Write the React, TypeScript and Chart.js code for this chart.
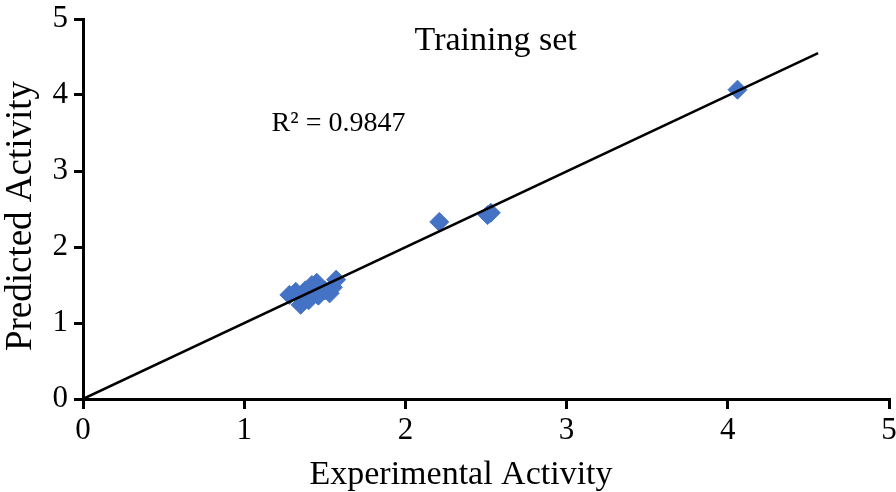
import React, { useEffect, useRef } from "react";
import { Chart, registerables } from "chart.js";

Chart.register(...registerables);

const expX: number[] = [1.28, 1.32, 1.35, 1.38, 1.40, 1.42, 1.45, 1.46, 1.50, 1.53, 1.55, 1.57, 2.21, 2.51, 2.53, 4.06];
const predY: number[] = [1.37, 1.41, 1.24, 1.43, 1.30, 1.50, 1.53, 1.36, 1.43, 1.39, 1.47, 1.57, 2.33, 2.42, 2.45, 4.07];
const trendX: number[] = [0, 4.56];
const trendY: number[] = [0, 4.55];
const tickValues: number[] = [0, 1, 2, 3, 4, 5];

const chartTitle = "Training set";
const r2Label = "R² = 0.9847";
const xTitle = "Experimental Activity";
const yTitle = "Predicted Activity";

const FONT = "'Liberation Serif', 'Times New Roman', serif";

const textPlugin = {
  id: "textPlugin",
  afterDraw(chart: any) {
    const ctx = chart.ctx;
    const xs = chart.scales.x;
    const ys = chart.scales.y;
    ctx.save();
    ctx.fillStyle = "#000";
    ctx.textBaseline = "alphabetic";
    ctx.font = `34px ${FONT}`;
    ctx.textAlign = "center";
    ctx.fillText(chartTitle, xs.getPixelForValue(2.56), ys.getPixelForValue(4.59));
    ctx.font = `28px ${FONT}`;
    ctx.textAlign = "left";
    ctx.fillText(r2Label, xs.getPixelForValue(1.17), ys.getPixelForValue(3.53));
    ctx.font = `34px ${FONT}`;
    ctx.textAlign = "center";
    ctx.fillText(xTitle, 461, 484);
    ctx.font = `37px ${FONT}`;
    ctx.textBaseline = "middle";
    ctx.translate(21, 216);
    ctx.rotate(-Math.PI / 2);
    ctx.fillText(yTitle, 0, 0);
    ctx.restore();
  },
};

export default function App() {
  const ref = useRef<HTMLCanvasElement>(null);
  useEffect(() => {
    if (!ref.current) return;
    const points = expX.map((x, i) => ({ x, y: predY[i] }));
    const trend = trendX.map((x, i) => ({ x, y: trendY[i] }));
    const chart = new Chart(ref.current, {
      type: "scatter",
      data: {
        datasets: [
          {
            type: "line" as any,
            data: trend,
            borderColor: "#000",
            borderWidth: 2.5,
            pointRadius: 0,
            fill: false,
            order: 0,
          },
          {
            data: points,
            pointStyle: "rectRot",
            pointRadius: 9.5,
            backgroundColor: "#4472C4",
            borderColor: "#4472C4",
            borderWidth: 1,
            order: 1,
          },
        ],
      },
      options: {
        responsive: false,
        animation: false,
        layout: { autoPadding: false, padding: { top: 19, right: 7, left: 0, bottom: 0 } },
        plugins: { legend: { display: false }, tooltip: { enabled: false }, title: { display: false } },
        scales: {
          x: {
            type: "linear",
            min: 0,
            max: 5,
            afterBuildTicks: (s: any) => { s.ticks = tickValues.map((v) => ({ value: v })); },
            afterFit: (s: any) => { s.height = 93; s.paddingLeft = 0; s.paddingRight = 0; },
            border: { display: true, color: "#000", width: 3 },
            grid: { display: true, drawOnChartArea: false, drawTicks: true, tickLength: 10, color: "#000", lineWidth: 3 },
            ticks: { color: "#000", font: { family: FONT, size: 31 }, padding: 3, maxRotation: 0 },
          },
          y: {
            type: "linear",
            min: 0,
            max: 5,
            afterBuildTicks: (s: any) => { s.ticks = tickValues.map((v) => ({ value: v })); },
            afterFit: (s: any) => { s.width = 83; s.paddingTop = 0; s.paddingBottom = 0; },
            border: { display: true, color: "#000", width: 3 },
            grid: { display: true, drawOnChartArea: false, drawTicks: true, tickLength: 9, color: "#000", lineWidth: 3 },
            ticks: { color: "#000", font: { family: FONT, size: 31 }, padding: 6 },
          },
        },
      },
      plugins: [textPlugin],
    });
    return () => chart.destroy();
  }, []);
  return (
    <div style={{ position: "absolute", left: 0, top: 0, width: 896, height: 492, background: "#fff" }}>
      <canvas ref={ref} width={896} height={492} />
    </div>
  );
}
